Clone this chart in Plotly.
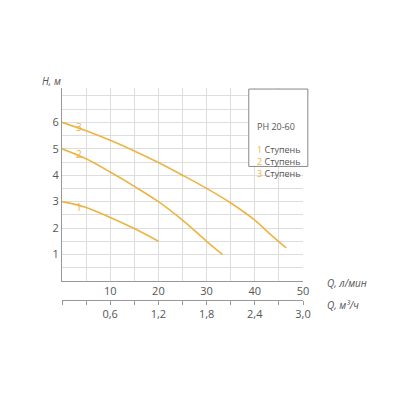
import plotly.graph_objects as go

q1 = [0, 5, 10, 15, 20]
h1 = [3.0, 2.78, 2.4, 1.98, 1.5]
q2 = [0, 5, 10, 15, 20, 25, 30, 33.3]
h2 = [5.0, 4.62, 4.12, 3.58, 3.0, 2.3, 1.5, 1.0]
q3 = [0, 5, 10, 15, 20, 25, 30, 35, 40, 43, 46.5]
h3 = [6.0, 5.68, 5.32, 4.92, 4.48, 4.0, 3.5, 2.95, 2.3, 1.8, 1.25]
labels = ["1", "2", "3"]
lab_q = [3.5, 3.5, 3.5]
lab_h = [2.75, 4.75, 5.75]
xticks1 = [10, 20, 30, 40, 50]
xticks2 = [0.6, 1.2, 1.8, 2.4, 3.0]
xticks2_txt = ["0,6", "1,2", "1,8", "2,4", "3,0"]
yticks = [1, 2, 3, 4, 5, 6]

gold = "#EDB443"
grey = "#555555"
fig = go.Figure()
for q, h in [(q1, h1), (q2, h2), (q3, h3)]:
    fig.add_trace(go.Scatter(x=q, y=h, mode="lines", line=dict(color=gold, width=1.6, shape="spline"),
                             showlegend=False, hoverinfo="skip"))
fig.add_trace(go.Scatter(x=lab_q, y=lab_h, text=labels, mode="text", textfont=dict(color=gold, size=10),
                         showlegend=False, hoverinfo="skip"))
fig.add_trace(go.Scatter(x=[0, 3], y=[None, None], xaxis="x2", showlegend=False, hoverinfo="skip"))

fig.update_layout(
    width=400, height=400, plot_bgcolor="white", paper_bgcolor="white",
    margin=dict(l=54, r=105, t=80, b=108),
    font=dict(family="Open Sans", size=11, color=grey),
    xaxis=dict(range=[0, 50], anchor="y", tickvals=xticks1, showgrid=True, gridcolor="#dddddd",
               showline=True, linecolor="#999", ticks="", zeroline=False,
               minor=dict(showgrid=True, dtick=5, tick0=0, gridcolor="#dddddd")),
    xaxis2=dict(range=[0, 3], overlaying="x", anchor="free", position=0, side="bottom",
                tickvals=xticks2, ticktext=xticks2_txt, showgrid=False, showline=True, linecolor="#999",
                ticks="outside", ticklen=4, tickcolor="#999",
                minor=dict(ticks="outside", dtick=0.3, tick0=0, ticklen=4, tickcolor="#999"), zeroline=False),
    yaxis=dict(range=[0, 7.3], domain=[0.09, 1], tickvals=yticks, showgrid=False, showline=True,
               linecolor="#999", zeroline=False, ticks="",
               minor=dict(dtick=0.5, tick0=0, showgrid=True, gridcolor="#dddddd")),
)
fig.add_annotation(xref="paper", yref="paper", x=-0.09, y=0.99, text="<i>H, м</i>", showarrow=False,
                   xanchor="left", yanchor="bottom", font=dict(size=10))
fig.add_annotation(xref="paper", yref="paper", x=1.09, y=0.04, text="<i>Q, л/мин</i>", showarrow=False,
                   xanchor="left", font=dict(size=10))
fig.add_annotation(xref="paper", yref="paper", x=1.09, y=-0.065, text="<i>Q, м³/ч</i>", showarrow=False,
                   xanchor="left", font=dict(size=10))
fig.add_shape(type="rect", xref="paper", yref="paper", x0=0.775, x1=1.02, y0=0.63, y1=0.995,
              line=dict(color="#888", width=1), fillcolor="white")
leg = ("PH 20-60<br><br>" + "<br>".join(f"<span style='color:{gold}'>{l}</span> Ступень" for l in labels))
fig.add_annotation(xref="paper", yref="paper", x=0.8, y=0.86, text=leg, showarrow=False,
                   xanchor="left", align="left", font=dict(size=9))
fig.write_html("out.html")
